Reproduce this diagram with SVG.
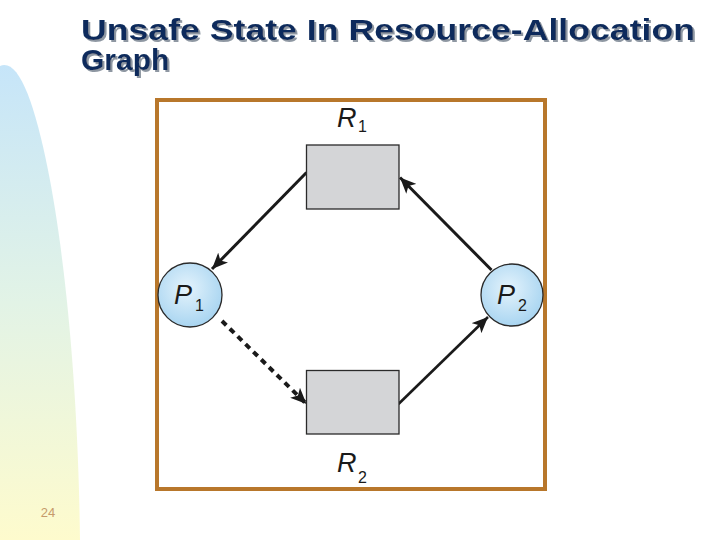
<svg xmlns="http://www.w3.org/2000/svg" width="720" height="540" viewBox="0 0 720 540">
<defs>
<linearGradient id="bg" x1="0" y1="0" x2="0" y2="1">
<stop offset="0" stop-color="#c6e5f9"/>
<stop offset="0.5" stop-color="#e2f3e6"/>
<stop offset="1" stop-color="#fefbcd"/>
</linearGradient>
<radialGradient id="pg" cx="0.45" cy="0.4" r="0.6">
<stop offset="0" stop-color="#e4f3fc"/>
<stop offset="1" stop-color="#a9d5f1"/>
</radialGradient>
<filter id="sh" x="-5%" y="-20%" width="110%" height="140%">
<feDropShadow dx="2" dy="2" stdDeviation="0.4" flood-color="#8e97a2" flood-opacity="1"/>
</filter>
<marker id="ah" markerUnits="userSpaceOnUse" markerWidth="18" markerHeight="14" refX="16" refY="7" orient="auto">
<path d="M0,0 L16,7 L0,14 L4,7 Z" fill="#1a1a1a"/>
</marker>
<style>
.title{font-family:"Liberation Sans",Arial,sans-serif;font-weight:bold;font-size:30px;fill:#0b2c5c;filter:url(#sh)}
.res{fill:#d4d5d7;stroke:#2a2a2a;stroke-width:1.3}
.proc{fill:url(#pg);stroke:#2a2a2a;stroke-width:1.3}
.lbl{font-family:"Liberation Sans",Arial,sans-serif;font-style:italic;font-size:27px;fill:#1a1a1a}
.sub{font-family:"Liberation Sans",Arial,sans-serif;font-size:16px;fill:#1a1a1a}
.edge{stroke:#1a1a1a;stroke-width:3;fill:none;marker-end:url(#ah)}
.dash{stroke-width:4;stroke-dasharray:6 5}
</style>
</defs>
<rect width="720" height="540" fill="#ffffff"/>
<path d="M0,66 C18,58 34,100 48,170 C64,250 78,380 80,540 L0,540 Z" fill="url(#bg)"/>
<g id="title">
<text class="title" x="81" y="40" textLength="614" lengthAdjust="spacingAndGlyphs">Unsafe State In Resource-Allocation</text>
<text class="title" x="81" y="70">Graph</text>
</g>
<rect x="157" y="100" width="388" height="389" fill="#ffffff" stroke="#b8772b" stroke-width="4"/>
<g id="connectors">
<line class="edge" x1="306.5" y1="172.5" x2="212" y2="269"/>
<line class="edge" x1="491.5" y1="270" x2="400" y2="177.5"/>
<line class="edge dash" x1="222" y1="321" x2="306.5" y2="404"/>
<line class="edge" x1="398.5" y1="404" x2="488" y2="317" style="stroke-width:2.6"/>
</g>
<g id="R1">
<rect class="res" x="306.5" y="145" width="92.5" height="64"/>
<text class="lbl" x="337" y="127">R</text><text class="sub" x="358" y="132">1</text>
</g>
<g id="R2">
<rect class="res" x="306.5" y="370.5" width="92.5" height="63.5"/>
<text class="lbl" x="337" y="472">R</text><text class="sub" x="358" y="483">2</text>
</g>
<g id="P1">
<circle class="proc" cx="190" cy="295" r="32"/>
<text class="lbl" x="174" y="304">P</text><text class="sub" x="195" y="311">1</text>
</g>
<g id="P2">
<circle class="proc" cx="512" cy="295" r="31"/>
<text class="lbl" x="497" y="304">P</text><text class="sub" x="518" y="311">2</text>
</g>
<text x="48" y="517" text-anchor="middle" font-family="Liberation Sans, Arial, sans-serif" font-size="13" fill="#c69a6c">24</text>
</svg>
